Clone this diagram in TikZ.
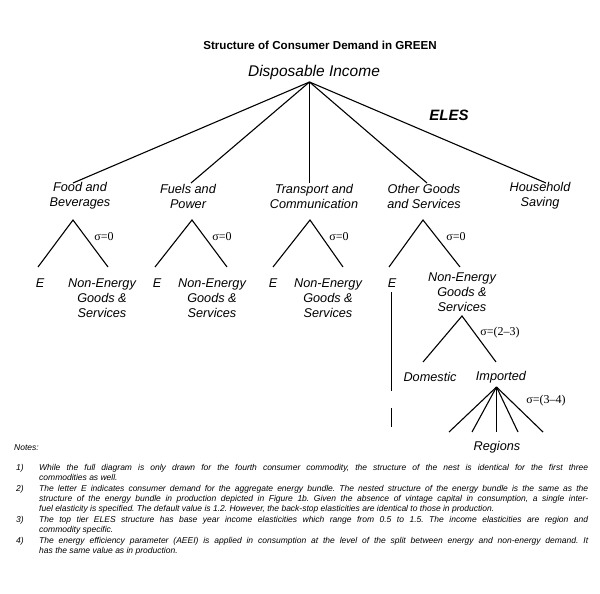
\documentclass[tikz,border=0pt]{standalone}
\usepackage{fontspec}
\newfontfamily\arialf{Liberation Sans}
\newfontfamily\timesf{Liberation Serif}
\frenchspacing
\begin{document}
\begin{tikzpicture}[x=1pt,y=-1pt,
  lbl/.style={font=\arialf\itshape\fontsize{12.7}{15}\selectfont, align=center, inner sep=0pt},
  sig/.style={font=\timesf\fontsize{12}{14}\selectfont, inner sep=0pt},
  branch/.style={line width=1.1pt},
  notetxt/.style={font=\arialf\itshape\fontsize{8.5}{10}\selectfont, inner sep=0pt, text width=549pt, align=justify, anchor=base west, execute at begin node={\frenchspacing\hyphenpenalty=10000\exhyphenpenalty=10000}},
  notenum/.style={font=\arialf\itshape\fontsize{8.5}{10}\selectfont, inner sep=0pt, anchor=base west}]
\fill[white] (0,0) rectangle (600,594);
\useasboundingbox (0,0) rectangle (600,594);

% title and root
\node[font=\arialf\bfseries\fontsize{11.6}{13}\selectfont, inner sep=0pt] (title) at (320,45) {Structure of Consumer Demand in GREEN};
\node[font=\arialf\itshape\fontsize{15.5}{18}\selectfont, inner sep=0pt] (di) at (314,72) {Disposable Income};
\node[font=\arialf\bfseries\itshape\fontsize{15}{18}\selectfont, inner sep=0pt] (eles) at (449,115) {ELES};
\coordinate (top) at (309.5,82);

% top tier
\node[lbl] (food) at (80,196) {Food and\\Beverages};
\node[lbl] (fuel) at (188,196) {Fuels and\\Power};
\node[lbl] (tran) at (314,196) {Transport and\\Communication};
\node[lbl] (oth) at (424,196) {Other Goods\\and Services};
\node[lbl] (hh) at (540,196) {Household\\Saving};
\coordinate (t1) at (73,183);
\coordinate (t2) at (191,183);
\coordinate (t3) at (309.5,183);
\coordinate (t4) at (427,183);
\coordinate (t5) at (546,183);
\foreach \i in {1,...,5} \draw[branch] (top) -- (t\i);

% second tier subtrees
\coordinate (a1) at (73,220);  \coordinate (a1l) at (38,267);  \coordinate (a1r) at (108,267);
\coordinate (a2) at (192,220); \coordinate (a2l) at (155,267); \coordinate (a2r) at (227,267);
\coordinate (a3) at (310,220); \coordinate (a3l) at (273,267); \coordinate (a3r) at (343,267);
\coordinate (a4) at (423,220); \coordinate (a4l) at (389,267); \coordinate (a4r) at (460,267);
\foreach \i in {1,...,4} \draw[branch] (a\i l) -- (a\i) -- (a\i r);

\node[sig] (s1) at (104,237) {σ=0};
\node[sig] (s2) at (222,237) {σ=0};
\node[sig] (s3) at (339,237) {σ=0};
\node[sig] (s4) at (456,237) {σ=0};

\node[lbl] (e1) at (40,283) {E};
\node[lbl] (e2) at (157,283) {E};
\node[lbl] (e3) at (273,283) {E};
\node[lbl] (e4) at (392,283) {E};
\node[lbl] (n1) at (102,298) {Non-Energy\\Goods \&\\Services};
\node[lbl] (n2) at (212,298) {Non-Energy\\Goods \&\\Services};
\node[lbl] (n3) at (328,298) {Non-Energy\\Goods \&\\Services};
\node[lbl] (n4) at (462,292) {Non-Energy\\Goods \&\\Services};

% vertical energy line
\coordinate (v0) at (391.5,292);
\coordinate (v1) at (391.5,391);
\coordinate (v2) at (391.5,408);
\coordinate (v3) at (391.5,427);
\draw[line width=1pt] (v0) -- (v1);
\draw[line width=1pt] (v2) -- (v3);

% domestic / imported
\coordinate (b) at (462,316);
\coordinate (bl) at (423,362);
\coordinate (br) at (496,362);
\draw[branch] (bl) -- (b) -- (br);
\node[sig] (s5) at (500,333) {σ=(2–3)};
\node[lbl] (dom) at (430,377) {Domestic};
\node[lbl] (imp) at (501,377) {Imported};

% regions fan
\coordinate (r) at (496.5,387);
\coordinate (r1) at (449,432);
\coordinate (r2) at (472,432);
\coordinate (r3) at (496.5,432);
\coordinate (r4) at (518,432);
\coordinate (r5) at (543,432);
\foreach \i in {1,...,5} \draw[branch] (r) -- (r\i);
\node[sig] (s6) at (546,401) {σ=(3–4)};
\node[lbl] (reg) at (497,447) {Regions};

% notes
\node[notenum] (notes) at (14,450) {Notes:};
\node[notenum] (k1) at (16,470) {1)};
\node[notetxt] (m1) at (39,470) {While the full diagram is only drawn for the fourth consumer commodity, the structure of the nest is identical for the first three\linebreak commodities as well.};
\node[notenum] (k2) at (16,491) {2)};
\node[notetxt] (m2) at (39,491) {The letter E indicates consumer demand for the aggregate energy bundle. The nested structure of the energy bundle is the same as the\linebreak structure of the energy bundle in production depicted in Figure 1b. Given the absence of vintage capital in consumption, a single inter-\linebreak fuel elasticity is specified. The default value is 1.2. However, the back-stop elasticities are identical to those in production.};
\node[notenum] (k3) at (16,522) {3)};
\node[notetxt] (m3) at (39,522) {The top tier ELES structure has base year income elasticities which range from 0.5 to 1.5. The income elasticities are region and\linebreak commodity specific.};
\node[notenum] (k4) at (16,543) {4)};
\node[notetxt] (m4) at (39,543) {The energy efficiency parameter (AEEI) is applied in consumption at the level of the split between energy and non-energy demand. It\linebreak has the same value as in production.};
\end{tikzpicture}
\end{document}
